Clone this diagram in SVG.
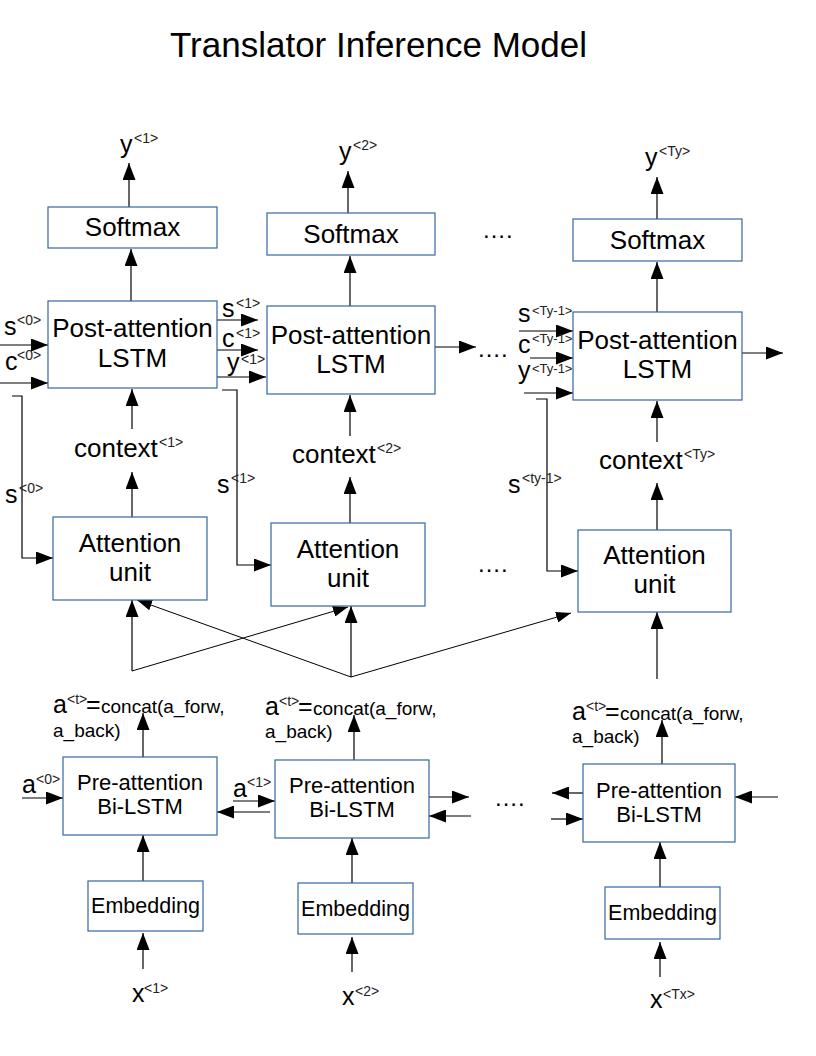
<svg xmlns="http://www.w3.org/2000/svg" width="816" height="1056" viewBox="0 0 816 1056">
  <style>
    text { font-family: "Liberation Sans", Arial, sans-serif; fill: #000; }
    .box { fill: #fff; stroke: #3465a4; stroke-width: 1.2; }
    .lbl { font-size: 26px; text-anchor: middle; }
    .pre { font-size: 22px; text-anchor: middle; }
    .emb { font-size: 21.5px; text-anchor: middle; }
    .var { font-size: 25px; }
    .ctx { font-size: 26px; }
    .sup { font-size: 14px; fill: #222; }
    .sm { font-size: 13px; fill: #222; }
    .eq  { font-size: 19px; }
    .dots { font-size: 24px; letter-spacing: 1px; }
    .title { font-size: 35px; }
    .wire { fill: none; stroke: #000; stroke-width: 1.2; marker-end: url(#ah); }
    .thin { fill: none; stroke: #000; stroke-width: 1; marker-end: url(#ahs); }
  </style>
  <defs>
    <marker id="ah" viewBox="0 0 17 13" refX="17" refY="6.5" markerWidth="17" markerHeight="13" orient="auto" markerUnits="userSpaceOnUse">
      <path d="M0,0 L17,6.5 L0,13 z" fill="#000"/>
    </marker>
    <marker id="ahs" viewBox="0 0 15 11" refX="15" refY="5.5" markerWidth="15" markerHeight="11" orient="auto" markerUnits="userSpaceOnUse">
      <path d="M0,0 L15,5.5 L0,11 z" fill="#000"/>
    </marker>
  </defs>

  <rect width="816" height="1056" fill="#fff"/>

  <text class="title" x="170" y="57">Translator Inference Model</text>

  <!-- connectors -->
  <g id="connectors">
    <!-- softmax outputs -->
    <path class="wire" d="M129,207 V163"/>
    <path class="wire" d="M131,301 V249"/>
    <path class="wire" d="M348,213 V171"/>
    <path class="wire" d="M350,306 V256"/>
    <path class="wire" d="M657,219 V177"/>
    <path class="wire" d="M657,312 V262"/>
    <!-- context paths -->
    <path class="wire" d="M132,429 V389"/>
    <path class="wire" d="M132,517 V472"/>
    <path class="wire" d="M350,436 V395"/>
    <path class="wire" d="M350,523 V477"/>
    <path class="wire" d="M657,442 V401"/>
    <path class="wire" d="M657,530 V483"/>
    <!-- post-attention states -->
    <path class="wire" d="M0,345 H48"/>
    <path class="wire" d="M0,383 H48"/>
    <path class="wire" d="M217,320 H258"/>
    <path class="wire" d="M217,350 H258"/>
    <path class="wire" d="M217,377 H266"/>
    <path class="wire" d="M435,347 H476"/>
    <path class="wire" d="M519,331 H573"/>
    <path class="wire" d="M530,358 H573"/>
    <path class="wire" d="M524,393 H573"/>
    <path class="wire" d="M742,353 H783"/>
    <!-- state fed to attention -->
    <path class="wire" d="M12,396 H22 V558 H53"/>
    <path class="wire" d="M222,390 H237 V565 H271"/>
    <path class="wire" d="M536,399 H547 V571 H578"/>
    <!-- activations to attention units -->
    <path class="wire" d="M132,671 V600"/>
    <path class="thin" d="M132,671 L348,607"/>
    <path class="wire" d="M351,677 V606"/>
    <path class="thin" d="M351,677 L137,600"/>
    <path class="thin" d="M351,677 L571,613"/>
    <path class="wire" d="M657,679 V612"/>
    <!-- pre-attention outputs -->
    <path class="wire" d="M143,757 V713"/>
    <path class="wire" d="M354,760 V715"/>
    <path class="wire" d="M662,764 V720"/>
    <!-- bidirectional links -->
    <path class="wire" d="M22,798 H63"/>
    <path class="wire" d="M233,801 H275"/>
    <path class="wire" d="M270,812 H217"/>
    <path class="wire" d="M429,797 H469"/>
    <path class="wire" d="M471,816 H429"/>
    <path class="wire" d="M583,793 H552"/>
    <path class="wire" d="M551,819 H583"/>
    <path class="wire" d="M778,797 H735"/>
    <!-- embeddings -->
    <path class="wire" d="M143,881 V835"/>
    <path class="wire" d="M352,883 V838"/>
    <path class="wire" d="M660,887 V842"/>
    <path class="wire" d="M143,969 V933"/>
    <path class="wire" d="M352,972 V937"/>
    <path class="wire" d="M660,977 V942"/>
  </g>

  <!-- softmax layer -->
  <g id="softmax1"><rect class="box" x="48" y="207" width="169" height="41"/><text class="lbl" x="132.5" y="236">Softmax</text></g>
  <g id="softmax2"><rect class="box" x="267" y="213" width="168" height="42"/><text class="lbl" x="351" y="243">Softmax</text></g>
  <g id="softmax3"><rect class="box" x="573" y="219" width="169" height="42"/><text class="lbl" x="657.5" y="249">Softmax</text></g>

  <!-- post-attention LSTM -->
  <g id="post1"><rect class="box" x="48" y="301" width="169" height="87"/><text class="lbl" x="132.5" y="337">Post-attention</text><text class="lbl" x="132.5" y="367">LSTM</text></g>
  <g id="post2"><rect class="box" x="267" y="306" width="168" height="88"/><text class="lbl" x="351" y="344">Post-attention</text><text class="lbl" x="351" y="373">LSTM</text></g>
  <g id="post3"><rect class="box" x="573" y="312" width="169" height="88"/><text class="lbl" x="657.5" y="349">Post-attention</text><text class="lbl" x="657.5" y="378">LSTM</text></g>

  <!-- attention units -->
  <g id="att1"><rect class="box" x="53" y="517" width="154" height="83"/><text class="lbl" x="130" y="552">Attention</text><text class="lbl" x="130" y="581">unit</text></g>
  <g id="att2"><rect class="box" x="271" y="523" width="154" height="83"/><text class="lbl" x="348" y="558">Attention</text><text class="lbl" x="348" y="587">unit</text></g>
  <g id="att3"><rect class="box" x="578" y="530" width="153" height="82"/><text class="lbl" x="654.5" y="564">Attention</text><text class="lbl" x="654.5" y="593">unit</text></g>

  <!-- pre-attention Bi-LSTM -->
  <g id="pre1"><rect class="box" x="63" y="757" width="154" height="78"/><text class="pre" x="140" y="790">Pre-attention</text><text class="pre" x="140" y="814">Bi-LSTM</text></g>
  <g id="pre2"><rect class="box" x="275" y="760" width="154" height="78"/><text class="pre" x="352" y="793">Pre-attention</text><text class="pre" x="352" y="817">Bi-LSTM</text></g>
  <g id="pre3"><rect class="box" x="583" y="764" width="152" height="78"/><text class="pre" x="659" y="798">Pre-attention</text><text class="pre" x="659" y="822">Bi-LSTM</text></g>

  <!-- embeddings -->
  <g id="emb1"><rect class="box" x="88" y="881" width="115" height="50"/><text class="emb" x="145.5" y="913">Embedding</text></g>
  <g id="emb2"><rect class="box" x="298" y="883" width="115" height="51"/><text class="emb" x="355.5" y="916">Embedding</text></g>
  <g id="emb3"><rect class="box" x="605" y="887" width="115" height="52"/><text class="emb" x="662.5" y="920">Embedding</text></g>

  <!-- variable labels -->
  <g id="labels">
    <text class="var" x="120" y="153">y</text><text class="sup" x="134" y="143">&lt;1&gt;</text>
    <text class="var" x="339" y="160">y</text><text class="sup" x="353" y="150">&lt;2&gt;</text>
    <text class="var" x="645" y="166">y</text><text class="sup" x="659" y="156">&lt;Ty&gt;</text>

    <text class="var" x="4" y="335">s</text><text class="sup" x="17" y="325">&lt;0&gt;</text>
    <text class="var" x="5" y="370">c</text><text class="sup" x="17" y="360">&lt;0&gt;</text>
    <text class="var" x="222" y="317">s</text><text class="sup" x="236" y="308">&lt;1&gt;</text>
    <text class="var" x="222" y="347">c</text><text class="sup" x="236" y="338">&lt;1&gt;</text>
    <text class="var" x="227" y="371">y</text><text class="sup" x="241" y="364">&lt;1&gt;</text>
    <text class="var" x="518" y="322">s</text><text class="sm" x="532" y="315">&lt;Ty-1&gt;</text>
    <text class="var" x="518" y="353">c</text><text class="sm" x="532" y="343">&lt;Ty-1&gt;</text>
    <text class="var" x="518" y="379">y</text><text class="sm" x="532" y="373">&lt;Ty-1&gt;</text>

    <text class="ctx" x="74" y="457">context</text><text class="sup" x="159" y="447">&lt;1&gt;</text>
    <text class="ctx" x="292" y="463">context</text><text class="sup" x="377" y="453">&lt;2&gt;</text>
    <text class="ctx" x="599" y="469">context</text><text class="sup" x="684" y="459">&lt;Ty&gt;</text>

    <text class="var" x="5" y="503">s</text><text class="sup" x="19" y="493">&lt;0&gt;</text>
    <text class="var" x="217" y="493">s</text><text class="sup" x="231" y="483">&lt;1&gt;</text>
    <text class="var" x="508" y="493">s</text><text class="sup" x="522" y="483">&lt;ty-1&gt;</text>

    <text class="var" x="53" y="713">a</text><text class="sup" x="67" y="704">&lt;t&gt;</text><text class="var" x="86" y="713">=</text><text class="eq" x="101" y="713">concat(a_forw,</text>
    <text class="eq" x="53" y="737">a_back)</text>
    <text class="var" x="265" y="715">a</text><text class="sup" x="279" y="706">&lt;t&gt;</text><text class="var" x="298" y="715">=</text><text class="eq" x="313" y="715">concat(a_forw,</text>
    <text class="eq" x="265" y="738">a_back)</text>
    <text class="var" x="572" y="720">a</text><text class="sup" x="586" y="711">&lt;t&gt;</text><text class="var" x="605" y="720">=</text><text class="eq" x="620" y="720">concat(a_forw,</text>
    <text class="eq" x="572" y="743">a_back)</text>

    <text class="var" x="22" y="793">a</text><text class="sup" x="36" y="784">&lt;0&gt;</text>
    <text class="var" x="233" y="797">a</text><text class="sup" x="247" y="787">&lt;1&gt;</text>

    <text class="var" x="132" y="1002">x</text><text class="sup" x="144" y="993">&lt;1&gt;</text>
    <text class="var" x="342" y="1005">x</text><text class="sup" x="355" y="996">&lt;2&gt;</text>
    <text class="var" x="650" y="1008">x</text><text class="sup" x="663" y="999">&lt;Tx&gt;</text>

    <text class="dots" x="483" y="238">....</text>
    <text class="dots" x="478" y="357">....</text>
    <text class="dots" x="478" y="572">....</text>
    <text class="dots" x="495" y="806">....</text>
  </g>
</svg>
